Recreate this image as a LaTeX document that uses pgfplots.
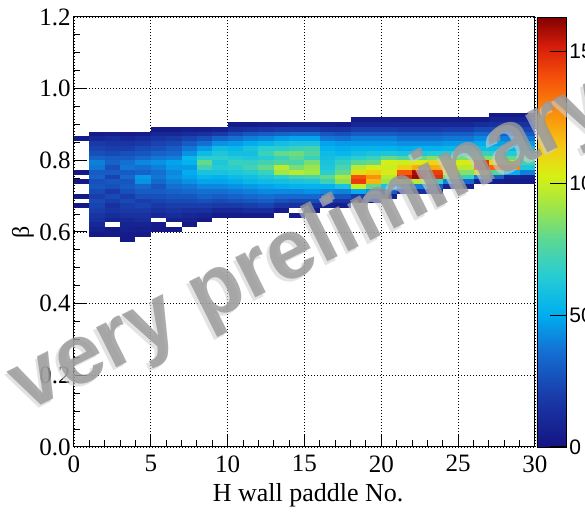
\documentclass[border=0pt]{standalone}
\usepackage{pgfplots}
\pgfplotsset{compat=1.18}
\usepackage{pgfplotstable}
\usepackage{fontspec}
\setmainfont{Liberation Serif}
\newfontfamily\helv{Liberation Sans}

\pgfdeclareplotmark{cell}{%
  \pgfpathrectangle{\pgfqpoint{-3.85pt}{-1.205pt}}{\pgfqpoint{7.7pt}{2.41pt}}%
  \pgfusepathqfill}

\pgfplotsset{colormap={rootrainbow}{
  rgb255(0pt)=(20,20,130); rgb255(12pt)=(25,60,170); rgb255(22pt)=(20,110,210);
  rgb255(31pt)=(0,175,240); rgb255(40pt)=(40,205,210); rgb255(48pt)=(90,215,150);
  rgb255(56pt)=(160,230,70); rgb255(63pt)=(215,240,20); rgb255(70pt)=(245,200,20);
  rgb255(78pt)=(250,140,10); rgb255(86pt)=(245,80,10); rgb255(93pt)=(215,30,10);
  rgb255(100pt)=(130,0,0)}}

% x = paddle bin (lower edge), k = beta bin index (beta = k/75 ... (k+1)/75), c = counts
\pgfplotstableread[row sep=\\]{
x k c\\
0 64 4\\ 0 57 3\\ 0 55 3\\ 0 52 3\\ 0 50 3\\
1 44 3\\ 1 45 6\\ 1 46 10\\ 1 47 14\\ 1 48 16\\ 1 49 20\\ 1 50 22\\ 1 51 24\\ 1 52 20\\ 1 53 24\\ 1 54 28\\ 1 55 26\\ 1 56 32\\ 1 57 30\\ 1 58 38\\ 1 59 40\\ 1 60 32\\ 1 61 26\\ 1 62 22\\ 1 63 18\\ 1 64 10\\ 1 65 4\\
2 44 4\\ 2 45 3\\ 2 47 8\\ 2 48 12\\ 2 49 16\\ 2 50 14\\ 2 51 20\\ 2 52 24\\ 2 53 18\\ 2 54 26\\ 2 55 28\\ 2 56 22\\ 2 57 30\\ 2 58 26\\ 2 59 32\\ 2 60 30\\ 2 61 24\\ 2 62 20\\ 2 63 16\\ 2 64 12\\ 2 65 5\\
3 43 3\\ 3 44 4\\ 3 45 6\\ 3 46 8\\ 3 47 10\\ 3 48 14\\ 3 49 18\\ 3 50 20\\ 3 51 24\\ 3 52 20\\ 3 53 26\\ 3 54 30\\ 3 55 28\\ 3 56 34\\ 3 57 30\\ 3 58 38\\ 3 59 36\\ 3 60 30\\ 3 61 26\\ 3 62 20\\ 3 63 16\\ 3 64 10\\ 3 65 4\\
4 44 3\\ 4 45 5\\ 4 46 8\\ 4 47 12\\ 4 48 14\\ 4 49 18\\ 4 50 22\\ 4 51 20\\ 4 52 26\\ 4 53 30\\ 4 54 34\\ 4 55 44\\ 4 56 46\\ 4 57 32\\ 4 58 36\\ 4 59 42\\ 4 60 34\\ 4 61 28\\ 4 62 24\\ 4 63 18\\ 4 64 12\\ 4 65 5\\
5 45 3\\ 5 46 4\\ 5 48 10\\ 5 49 14\\ 5 50 18\\ 5 51 22\\ 5 52 26\\ 5 53 30\\ 5 54 28\\ 5 55 34\\ 5 56 38\\ 5 57 36\\ 5 58 40\\ 5 59 44\\ 5 60 38\\ 5 61 32\\ 5 62 26\\ 5 63 22\\ 5 64 16\\ 5 65 10\\ 5 66 4\\
6 45 3\\ 6 47 6\\ 6 48 12\\ 6 49 16\\ 6 50 20\\ 6 51 24\\ 6 52 28\\ 6 53 32\\ 6 54 36\\ 6 55 40\\ 6 56 44\\ 6 57 42\\ 6 58 46\\ 6 59 48\\ 6 60 40\\ 6 61 34\\ 6 62 30\\ 6 63 24\\ 6 64 18\\ 6 65 10\\ 6 66 4\\
7 46 3\\ 7 47 6\\ 7 48 10\\ 7 49 14\\ 7 50 20\\ 7 51 24\\ 7 52 28\\ 7 53 34\\ 7 54 38\\ 7 55 44\\ 7 56 48\\ 7 57 50\\ 7 58 46\\ 7 59 52\\ 7 60 54\\ 7 61 44\\ 7 62 38\\ 7 63 30\\ 7 64 22\\ 7 65 12\\ 7 66 5\\
8 47 3\\ 8 48 8\\ 8 49 14\\ 8 50 20\\ 8 51 26\\ 8 52 32\\ 8 53 36\\ 8 54 42\\ 8 55 48\\ 8 56 54\\ 8 57 60\\ 8 58 72\\ 8 59 80\\ 8 60 66\\ 8 61 56\\ 8 62 46\\ 8 63 36\\ 8 64 26\\ 8 65 14\\ 8 66 5\\
9 48 4\\ 9 49 10\\ 9 50 18\\ 9 51 24\\ 9 52 30\\ 9 53 36\\ 9 54 42\\ 9 55 48\\ 9 56 52\\ 9 57 60\\ 9 58 64\\ 9 59 62\\ 9 60 66\\ 9 61 62\\ 9 62 56\\ 9 63 44\\ 9 64 32\\ 9 65 18\\ 9 66 6\\
10 48 4\\ 10 49 10\\ 10 50 18\\ 10 51 26\\ 10 52 32\\ 10 53 38\\ 10 54 44\\ 10 55 50\\ 10 56 56\\ 10 57 62\\ 10 58 66\\ 10 59 70\\ 10 60 64\\ 10 61 58\\ 10 62 54\\ 10 63 46\\ 10 64 36\\ 10 65 24\\ 10 66 12\\ 10 67 4\\
11 48 4\\ 11 49 12\\ 11 50 20\\ 11 51 28\\ 11 52 34\\ 11 53 40\\ 11 54 46\\ 11 55 54\\ 11 56 58\\ 11 57 64\\ 11 58 72\\ 11 59 68\\ 11 60 62\\ 11 61 58\\ 11 62 60\\ 11 63 50\\ 11 64 40\\ 11 65 28\\ 11 66 14\\ 11 67 4\\
12 48 4\\ 12 49 12\\ 12 50 22\\ 12 51 30\\ 12 52 36\\ 12 53 42\\ 12 54 48\\ 12 55 56\\ 12 56 62\\ 12 57 70\\ 12 58 80\\ 12 59 72\\ 12 60 64\\ 12 61 70\\ 12 62 66\\ 12 63 54\\ 12 64 42\\ 12 65 30\\ 12 66 16\\ 12 67 5\\
13 49 5\\ 13 50 16\\ 13 51 26\\ 13 52 34\\ 13 53 42\\ 13 54 50\\ 13 55 58\\ 13 56 66\\ 13 57 92\\ 13 58 96\\ 13 59 76\\ 13 60 70\\ 13 61 80\\ 13 62 66\\ 13 63 58\\ 13 64 46\\ 13 65 32\\ 13 66 18\\ 13 67 5\\
14 48 4\\ 14 50 14\\ 14 51 24\\ 14 52 34\\ 14 53 42\\ 14 54 52\\ 14 55 60\\ 14 56 72\\ 14 57 96\\ 14 58 84\\ 14 59 74\\ 14 60 78\\ 14 61 82\\ 14 62 70\\ 14 63 60\\ 14 64 48\\ 14 65 34\\ 14 66 18\\ 14 67 6\\
15 49 4\\ 15 50 12\\ 15 51 24\\ 15 52 34\\ 15 53 44\\ 15 54 52\\ 15 55 62\\ 15 56 74\\ 15 57 92\\ 15 58 90\\ 15 59 84\\ 15 60 70\\ 15 61 76\\ 15 62 72\\ 15 63 60\\ 15 64 48\\ 15 65 34\\ 15 66 18\\ 15 67 6\\
16 50 6\\ 16 51 18\\ 16 52 30\\ 16 53 42\\ 16 54 52\\ 16 55 70\\ 16 56 80\\ 16 57 66\\ 16 58 62\\ 16 59 60\\ 16 60 58\\ 16 61 56\\ 16 62 52\\ 16 63 48\\ 16 64 38\\ 16 65 28\\ 16 66 14\\ 16 67 5\\
17 50 5\\ 17 51 16\\ 17 52 28\\ 17 53 40\\ 17 54 60\\ 17 55 88\\ 17 56 94\\ 17 57 80\\ 17 58 74\\ 17 59 68\\ 17 60 62\\ 17 61 54\\ 17 62 50\\ 17 63 46\\ 17 64 36\\ 17 65 26\\ 17 66 14\\ 17 67 4\\
18 51 6\\ 18 52 20\\ 18 53 50\\ 18 54 100\\ 18 55 145\\ 18 56 140\\ 18 57 108\\ 18 58 96\\ 18 59 78\\ 18 60 66\\ 18 61 58\\ 18 62 52\\ 18 63 46\\ 18 64 40\\ 18 65 30\\ 18 66 20\\ 18 67 10\\ 18 68 4\\
19 51 5\\ 19 52 18\\ 19 53 44\\ 19 54 80\\ 19 55 118\\ 19 56 126\\ 19 57 112\\ 19 58 104\\ 19 59 80\\ 19 60 70\\ 19 61 60\\ 19 62 52\\ 19 63 46\\ 19 64 40\\ 19 65 30\\ 19 66 20\\ 19 67 10\\ 19 68 4\\
20 52 8\\ 20 53 30\\ 20 54 60\\ 20 55 90\\ 20 56 96\\ 20 57 104\\ 20 58 100\\ 20 59 102\\ 20 60 80\\ 20 61 62\\ 20 62 52\\ 20 63 46\\ 20 64 40\\ 20 65 30\\ 20 66 20\\ 20 67 10\\ 20 68 4\\
21 53 10\\ 21 54 36\\ 21 55 90\\ 21 56 150\\ 21 57 138\\ 21 58 112\\ 21 59 100\\ 21 60 76\\ 21 61 60\\ 21 62 50\\ 21 63 44\\ 21 64 36\\ 21 65 28\\ 21 66 18\\ 21 67 10\\ 21 68 4\\
22 53 12\\ 22 54 40\\ 22 55 96\\ 22 56 160\\ 22 57 158\\ 22 58 120\\ 22 59 104\\ 22 60 80\\ 22 61 62\\ 22 62 52\\ 22 63 44\\ 22 64 36\\ 22 65 28\\ 22 66 18\\ 22 67 10\\ 22 68 4\\
23 53 8\\ 23 54 30\\ 23 55 70\\ 23 56 148\\ 23 57 144\\ 23 58 120\\ 23 59 110\\ 23 60 86\\ 23 61 64\\ 23 62 52\\ 23 63 44\\ 23 64 36\\ 23 65 28\\ 23 66 18\\ 23 67 10\\ 23 68 4\\
24 54 8\\ 24 55 40\\ 24 56 84\\ 24 57 104\\ 24 58 110\\ 24 59 102\\ 24 60 82\\ 24 61 64\\ 24 62 54\\ 24 63 46\\ 24 64 38\\ 24 65 30\\ 24 66 20\\ 24 67 10\\ 24 68 4\\
25 54 6\\ 25 55 34\\ 25 56 70\\ 25 57 86\\ 25 58 96\\ 25 59 104\\ 25 60 84\\ 25 61 66\\ 25 62 54\\ 25 63 46\\ 25 64 38\\ 25 65 30\\ 25 66 20\\ 25 67 10\\ 25 68 4\\
26 55 6\\ 26 56 40\\ 26 57 110\\ 26 58 150\\ 26 59 146\\ 26 60 86\\ 26 61 70\\ 26 62 58\\ 26 63 50\\ 26 64 42\\ 26 65 34\\ 26 66 24\\ 26 67 12\\ 26 68 4\\
27 55 5\\ 27 56 30\\ 27 57 76\\ 27 58 136\\ 27 59 110\\ 27 60 86\\ 27 61 66\\ 27 62 56\\ 27 63 48\\ 27 64 40\\ 27 65 32\\ 27 66 24\\ 27 67 14\\ 27 68 8\\ 27 69 3\\
28 55 4\\ 28 56 8\\ 28 57 50\\ 28 58 128\\ 28 59 96\\ 28 60 80\\ 28 61 64\\ 28 62 54\\ 28 63 46\\ 28 64 40\\ 28 65 32\\ 28 66 24\\ 28 67 14\\ 28 68 8\\ 28 69 3\\
29 55 4\\ 29 56 6\\ 29 57 40\\ 29 58 62\\ 29 59 72\\ 29 60 76\\ 29 61 64\\ 29 62 54\\ 29 63 46\\ 29 64 38\\ 29 65 30\\ 29 66 22\\ 29 67 14\\ 29 68 8\\ 29 69 3\\
}\histdata

\begin{document}
\begin{tikzpicture}
\begin{axis}[
  at={(0pt,0pt)}, anchor=south west,
  scale only axis, width=230.5pt, height=215pt,
  xmin=0, xmax=30, ymin=0, ymax=1.2,
  xtick={0,5,...,30}, ytick={0,0.2,0.4,0.6,0.8,1.0,1.2},
  minor x tick num=4, minor y tick num=3,
  xtick pos=left, ytick pos=left,
  tick align=inside,
  major tick length=6.5pt, minor tick length=3.25pt,
  tick style={black, line width=0.5pt},
  axis line style={black, line width=0.5pt},
  grid=major,
  major grid style={black, line width=0.4pt, dash pattern=on 0.5pt off 1pt},
  axis on top,
  /pgf/number format/assume math mode=true,
  ticklabel style={font=\fontsize{12.5}{14}\selectfont},
  xticklabel style={inner sep=0pt, yshift=-4pt},
  yticklabel style={inner sep=0pt, xshift=-1.5pt, /pgf/number format/.cd, fixed, fixed zerofill, precision=1},
  xlabel={H wall paddle No.},
  xlabel style={font=\fontsize{13}{15}\selectfont, at={(axis description cs:0.508,-0.1256)}, anchor=base, inner sep=0pt},
  ylabel={β},
  ylabel style={font=\fontsize{12}{14}\selectfont, at={(axis description cs:-0.1106,0.5)}, anchor=center, inner sep=0pt},
  colormap name=rootrainbow,
  point meta min=0, point meta max=163,
  colorbar,
  colorbar shift/.style={xshift=1pt},
  colorbar style={
    at={(parent axis.north east)}, anchor=north west,
    scale only axis, width=14.5pt, height=215pt,
    ytick={0,50,100,150}, minor y tick num=0,
    ytick pos=right, yticklabel pos=right,
    tick align=inside, major tick length=8pt,
    grid=none,
    ytick style={black, line width=0.5pt},
    axis line style={black, line width=0.4pt},
    /pgf/number format/assume math mode=true,
    yticklabel style={font=\helv\fontsize{10.5}{12}\selectfont, inner sep=0pt, xshift=1.5pt, anchor=west},
  },
]
\addplot[scatter, only marks, mark=cell, point meta=explicit,
  scatter/use mapped color={draw=mapped color, fill=mapped color}]
  table[x expr=\thisrow{x}+0.5, y expr=(\thisrow{k}+0.5)/75, meta=c] {\histdata};
\end{axis}
% watermark
\node[anchor=base west, rotate=26.5, inner sep=0pt,
      font=\helv\bfseries\fontsize{42.5}{48}\selectfont, text=black!18, text opacity=0.6]
      at (-25pt,15.5pt) {very preliminary};
\node[anchor=base west, rotate=26.5, inner sep=0pt,
      font=\helv\bfseries\fontsize{42.5}{48}\selectfont, text=black!40, text opacity=0.82]
      at (-23.75pt,17.15pt) {very preliminary};
\pgfresetboundingbox
\path[use as bounding box] (-37pt,-33.5pt) rectangle (255.5pt,223.5pt);
\end{tikzpicture}
\end{document}
